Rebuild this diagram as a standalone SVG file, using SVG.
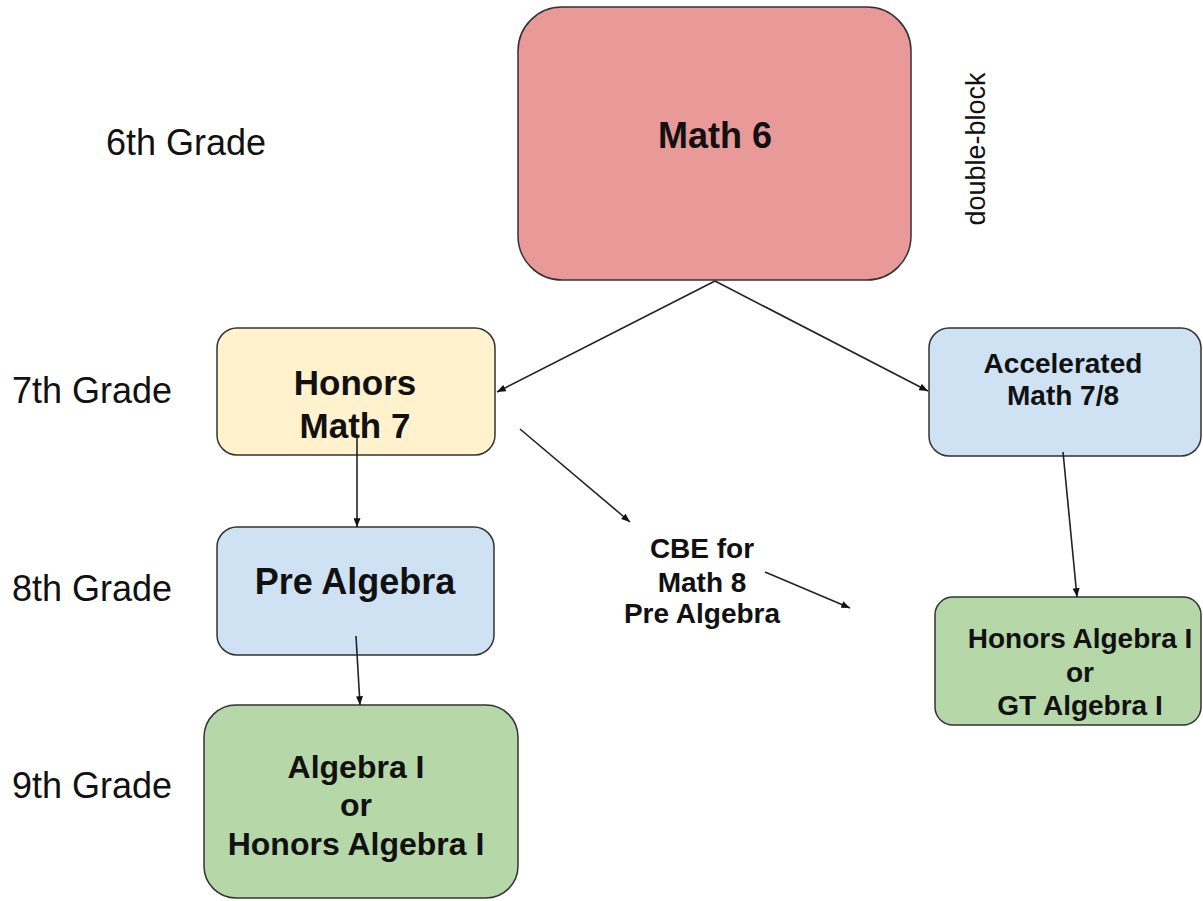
<svg xmlns="http://www.w3.org/2000/svg" width="1203" height="901" viewBox="0 0 1203 901">
<style>
.box{stroke:#333;stroke-width:1.5}
.b{font-family:"Liberation Sans",Arial,sans-serif;font-weight:bold;fill:#111;text-anchor:middle}
.g{font-family:"Liberation Sans",Arial,sans-serif;font-size:36px;fill:#111}
.c{stroke:#222;stroke-width:1.6;fill:none;marker-end:url(#ah)}
</style>
<defs>
<marker id="ah" viewBox="0 0 10 8" refX="10" refY="4" markerWidth="9" markerHeight="7" markerUnits="userSpaceOnUse" orient="auto">
<path d="M0,0 L10,4 L0,8 Z" fill="#111"/>
</marker>
</defs>
<rect width="1203" height="901" fill="#fff"/>
<g id="labels">
<text class="g" x="106" y="155">6th Grade</text>
<text class="g" x="12" y="403">7th Grade</text>
<text class="g" x="12" y="601">8th Grade</text>
<text class="g" x="12" y="798">9th Grade</text>
<text transform="translate(985,149) rotate(-90)" style="font-family:'Liberation Sans',Arial,sans-serif;font-size:27px;fill:#111" text-anchor="middle">double-block</text>
</g>
<g id="math6">
<rect class="box" x="518" y="7" width="393" height="273" rx="44" fill="#ea9999"/>
<text class="b" x="715" y="148" font-size="36">Math 6</text>
</g>
<g id="honors7">
<rect class="box" x="217" y="328" width="278" height="127" rx="20" fill="#fff2cc"/>
<text class="b" x="355" y="395" font-size="35">Honors</text>
<text class="b" x="355" y="438" font-size="35">Math 7</text>
</g>
<g id="accel">
<rect class="box" x="929" y="328" width="272" height="128" rx="20" fill="#cfe2f3"/>
<text class="b" x="1063" y="373" font-size="28">Accelerated</text>
<text class="b" x="1063" y="405" font-size="28">Math 7/8</text>
</g>
<g id="prealg">
<rect class="box" x="217" y="527" width="277" height="128" rx="20" fill="#cfe2f3"/>
<text class="b" x="355" y="594" font-size="36">Pre Algebra</text>
</g>
<g id="cbe">
<text class="b" x="702" y="558" font-size="28">CBE for</text>
<text class="b" x="702" y="592" font-size="28">Math 8</text>
<text class="b" x="702" y="623" font-size="28">Pre Algebra</text>
</g>
<g id="halg">
<rect class="box" x="935" y="597" width="266" height="128" rx="18" fill="#b6d7a8"/>
<text class="b" x="1080" y="648" font-size="28">Honors Algebra I</text>
<text class="b" x="1080" y="682" font-size="28">or</text>
<text class="b" x="1080" y="715" font-size="28">GT Algebra I</text>
</g>
<g id="alg1">
<rect class="box" x="204" y="705" width="314" height="193" rx="32" fill="#b6d7a8"/>
<text class="b" x="356" y="778" font-size="32">Algebra I</text>
<text class="b" x="356" y="816" font-size="32">or</text>
<text class="b" x="356" y="855" font-size="32">Honors Algebra I</text>
</g>
<g id="connectors">
<line class="c" x1="715" y1="281" x2="497" y2="392"/>
<line class="c" x1="715" y1="281" x2="928" y2="391"/>
<line class="c" x1="357" y1="437" x2="357" y2="527"/>
<line class="c" x1="520" y1="429" x2="630" y2="522"/>
<line class="c" x1="765" y1="572" x2="850" y2="608"/>
<line class="c" x1="1063" y1="452" x2="1077" y2="597"/>
<line class="c" x1="356" y1="636" x2="360" y2="705"/>
</g>
</svg>
